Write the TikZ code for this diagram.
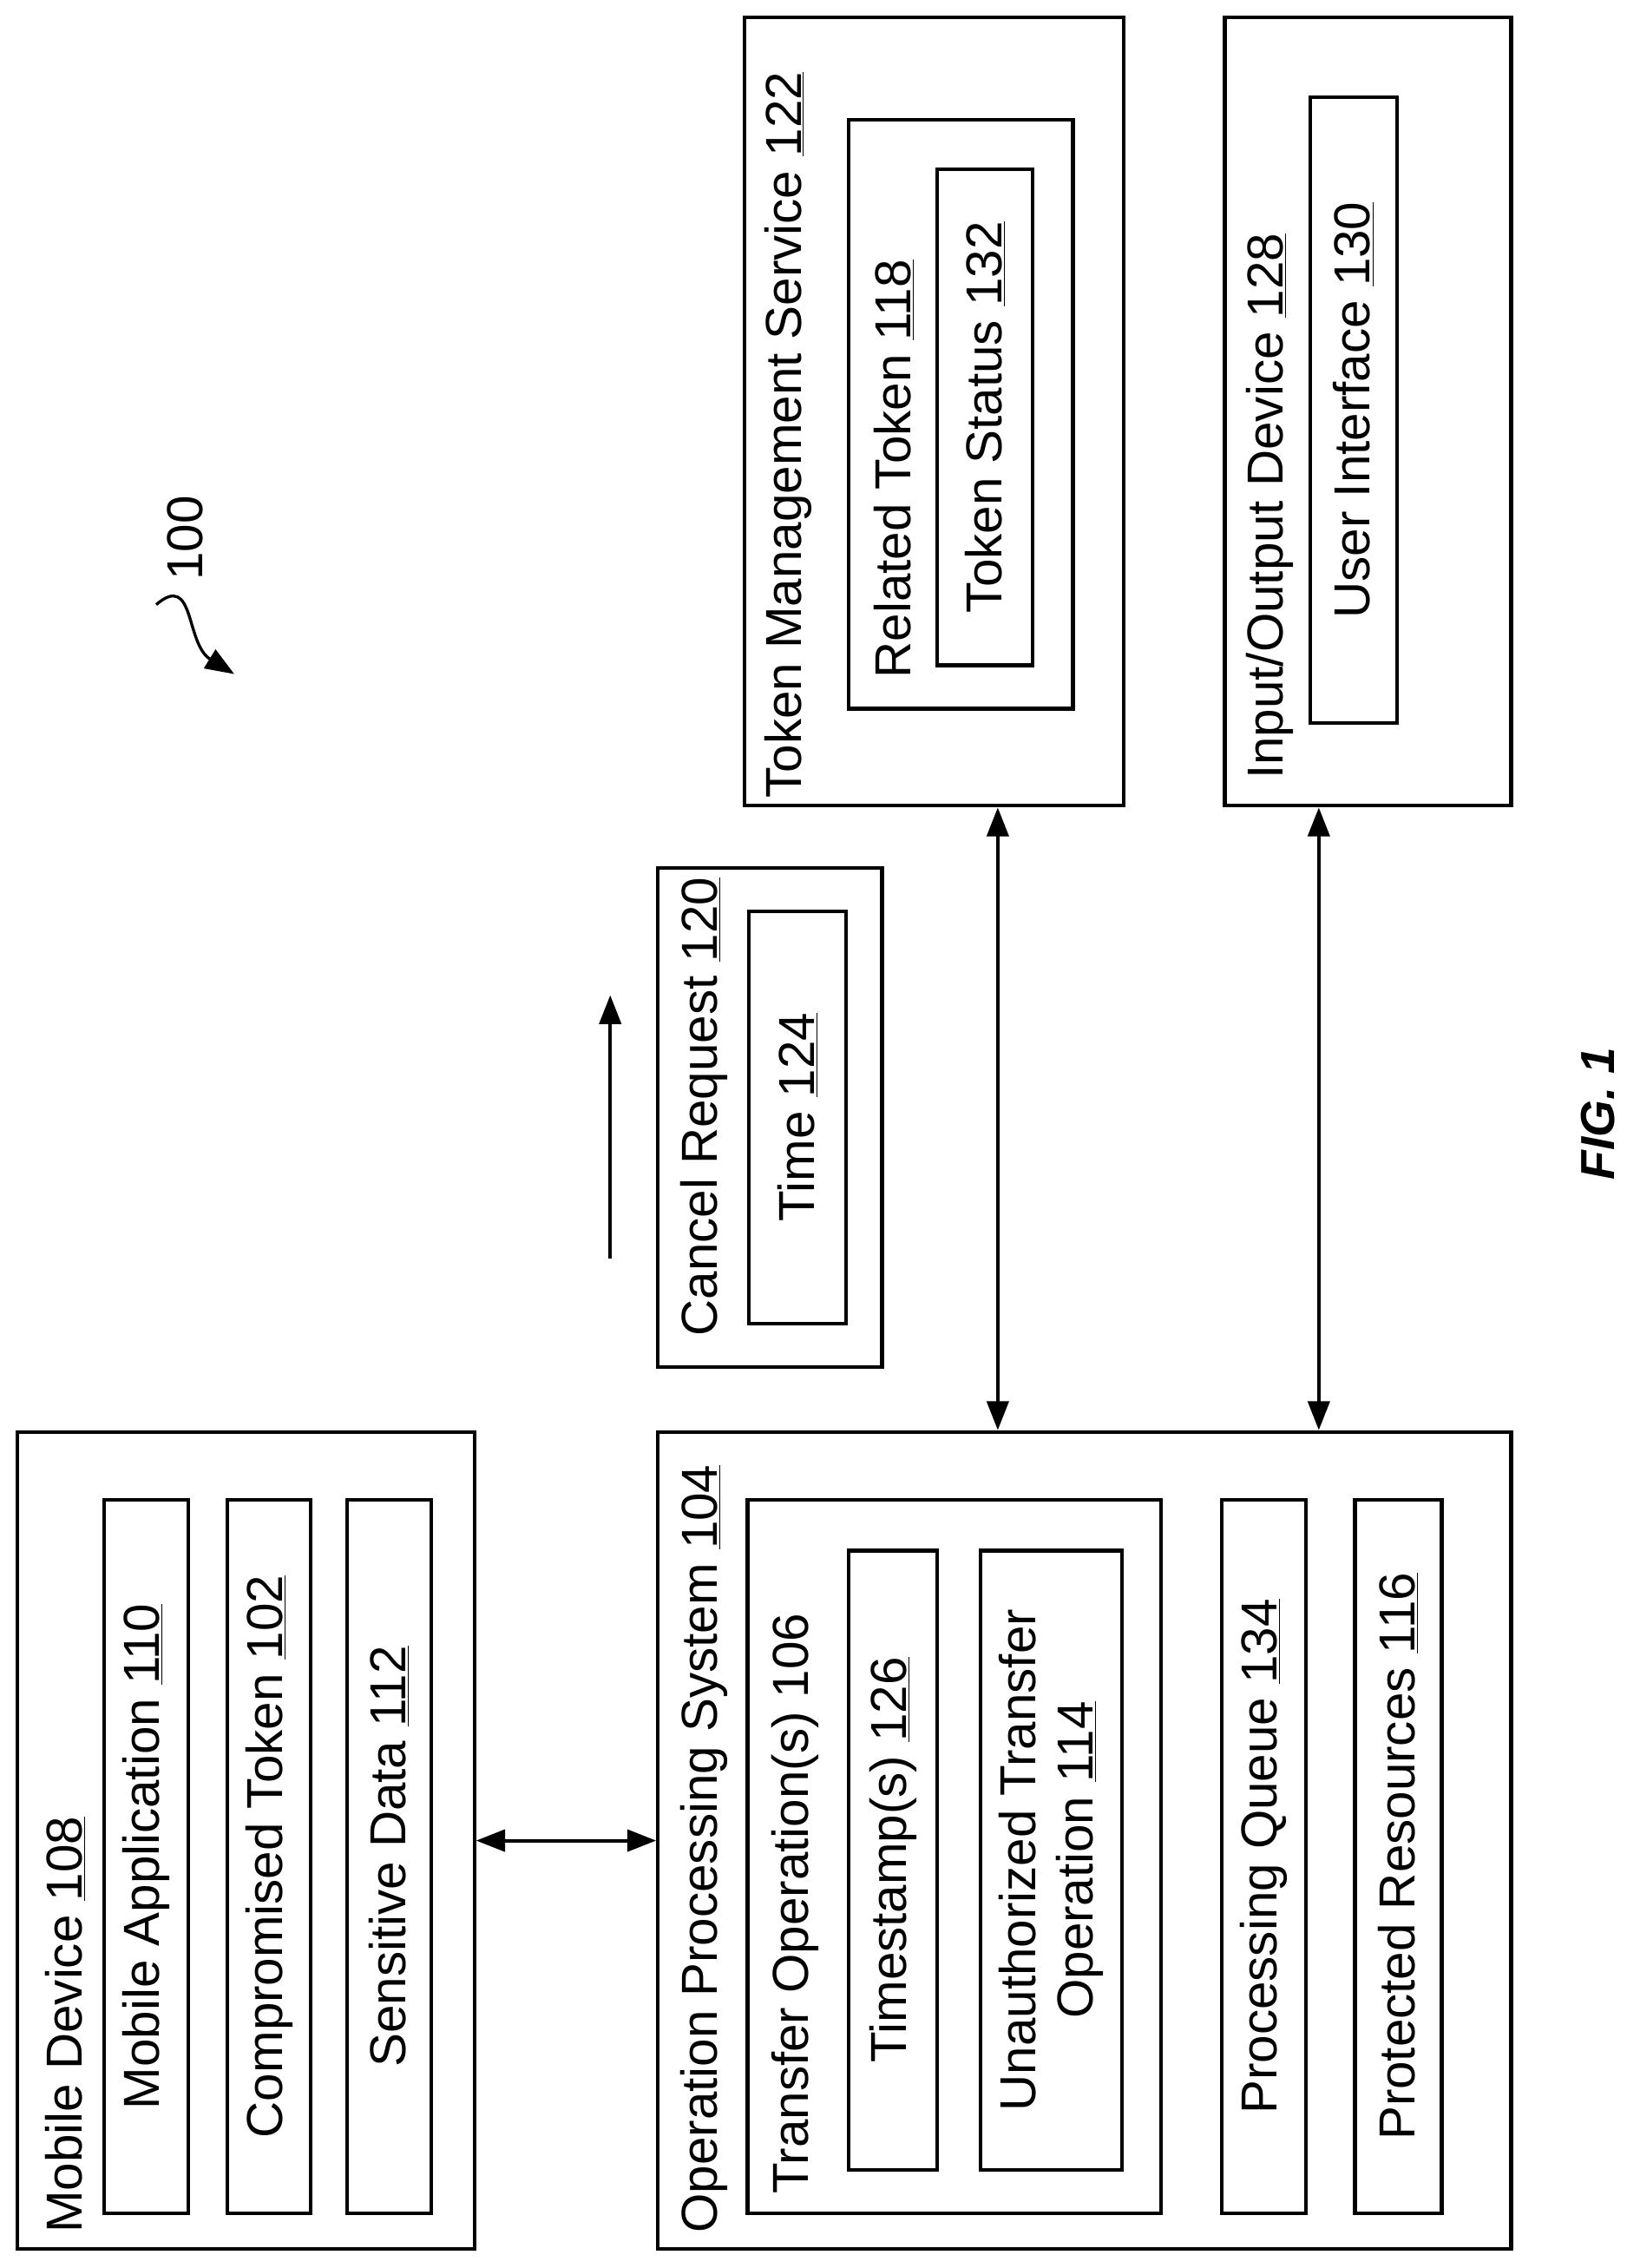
\documentclass[tikz,border=0pt]{standalone}
\usepackage{fontspec}
\setmainfont{Liberation Sans}
\usetikzlibrary{arrows.meta,calc}
\tikzset{every picture/.style={line width=2.5pt},
  box/.style={draw, rectangle, inner sep=0pt},
  lbl/.style={rotate=90, font=\fontsize{35}{40}\selectfont, align=center},
  ttl/.style={lbl, anchor=west, inner sep=0pt},
  dbl/.style={{Triangle[length=20pt,width=15pt]}-{Triangle[length=20pt,width=15pt]}},
  sgl/.style={-{Triangle[length=20pt,width=15pt]}}}
\newcommand{\un}[1]{\underline{#1}}
\begin{document}
\begin{tikzpicture}[x=1pt,y=1pt,yscale=-1,xscale=1]
\useasboundingbox (0,0) rectangle (1125,1568);

%Mobile device
\node[box, minimum width=316, minimum height=565] (mob) at (170,1272.5) {};
\node[ttl] (mobt) at (45,1545) {Mobile Device \un{108}};
\node[box, minimum width=58, minimum height=493] (app) at (101,1283.5) {};
\node[lbl] at (app) {Mobile Application \un{110}};
\node[box, minimum width=58, minimum height=493] (tok) at (186,1283.5) {};
\node[lbl] at (tok) {Compromised Token \un{102}};
\node[box, minimum width=58, minimum height=493] (sen) at (269,1283.5) {};
\node[lbl] at (sen) {Sensitive Data \un{112}};

%Operation processing system
\node[box, minimum width=590, minimum height=565] (ops) at (750,1272.5) {};
\node[ttl] (opst) at (487,1545) {Operation Processing System \un{104}};
\node[box, minimum width=286, minimum height=493] (tro) at (660,1283.5) {};
\node[ttl] (trot) at (550,1518) {Transfer Operation(s) 106};
\node[box, minimum width=61, minimum height=428] (tst) at (617.5,1286) {};
\node[lbl] at (tst) {Timestamp(s) \un{126}};
\node[box, minimum width=98, minimum height=428] (una) at (727,1286) {};
\node[lbl] at (una) {Unauthorized Transfer\\Operation \un{114}};
\node[box, minimum width=58, minimum height=493] (que) at (874,1283.5) {};
\node[lbl] at (que) {Processing Queue \un{134}};
\node[box, minimum width=60, minimum height=493] (res) at (967,1283.5) {};
\node[lbl] at (res) {Protected Resources \un{116}};

%Cancel request
\node[box, minimum width=155, minimum height=345] (can) at (532.5,772.5) {};
\node[ttl] (cant) at (487,925) {Cancel Request \un{120}};
\node[box, minimum width=67, minimum height=285] (tim) at (551.5,772.5) {};
\node[lbl] at (tim) {Time \un{124}};

%Token management service
\node[box, minimum width=262, minimum height=545] (tms) at (646,284.5) {};
\node[ttl] (tmst) at (545,553) {Token Management Service \un{122}};
\node[box, minimum width=155, minimum height=407] (rel) at (664.5,286.5) {};
\node[ttl] (relt) at (618,470) {Related Token \un{118}};
\node[box, minimum width=66, minimum height=343] (sts) at (681,288.5) {};
\node[lbl] at (sts) {Token Status \un{132}};

%Input/output device
\node[box, minimum width=198, minimum height=545] (iod) at (946,284.5) {};
\node[ttl] (iodt) at (878,540) {Input/Output Device \un{128}};
\node[box, minimum width=60, minimum height=433] (ui) at (936,283.5) {};
\node[lbl] at (ui) {User Interface \un{130}};

%Connectors
\coordinate (c1) at (690,0);
\coordinate (c2) at (912,0);
\coordinate (c3) at (422,870);
\coordinate (c4) at (422,688);
\draw[dbl] (mob.east) -- (ops.west);
\draw[dbl] (tms.south -| c1) -- (ops.north -| c1);
\draw[dbl] (iod.south -| c2) -- (ops.north -| c2);
\draw[sgl] (c3) -- (c4);

%Reference numeral
\node[lbl, anchor=center] (ref) at (128,372) {100};
\coordinate (r1) at (108,418);
\coordinate (r2) at (162,466);
\draw[sgl, line width=2pt] (r1) .. controls (135,395) and (128,445) .. (r2);

\node[lbl, font=\fontsize{33}{38}\selectfont\bfseries\itshape] (fig) at (1105,770) {FIG. 1};
\end{tikzpicture}
\end{document}
